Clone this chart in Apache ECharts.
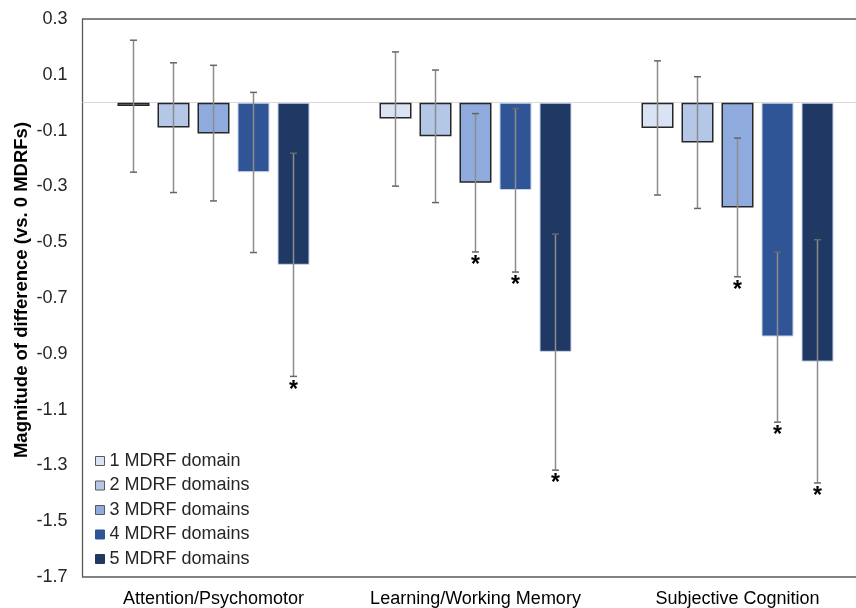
<!DOCTYPE html>
<html>
<head>
<meta charset="utf-8">
<script src="https://cdn.jsdelivr.net/npm/echarts@6/dist/echarts.min.js"></script>
<style>html,body{margin:0;padding:0;background:#fff}#c{width:856px;height:608px}</style>
</head>
<body>
<div id="c"></div>
<script>
var categories = ['Attention/Psychomotor', 'Learning/Working Memory', 'Subjective Cognition'];
var seriesNames = ['1 MDRF domain', '2 MDRF domains', '3 MDRF domains', '4 MDRF domains', '5 MDRF domains'];
var values1 = [-0.012, -0.057, -0.091];
var values2 = [-0.089, -0.120, -0.143];
var values3 = [-0.110, -0.287, -0.376];
var values4 = [-0.249, -0.313, -0.838];
var values5 = [-0.581, -0.893, -0.928];
var lower1 = [-0.249, -0.299, -0.331];
var lower2 = [-0.322, -0.358, -0.379];
var lower3 = [-0.352, -0.535, -0.624];
var lower4 = [-0.537, -0.607, -1.145];
var lower5 = [-0.981, -1.317, -1.363];
var upper1 = [0.224, 0.182, 0.150];
var upper2 = [0.143, 0.117, 0.093];
var upper3 = [0.134, -0.039, -0.127];
var upper4 = [0.037, -0.021, -0.535];
var upper5 = [-0.181, -0.471, -0.491];
var sig1 = [0, 0, 0];
var sig2 = [0, 0, 0];
var sig3 = [0, 1, 1];
var sig4 = [0, 1, 1];
var sig5 = [1, 1, 1];
var yTicksMin = -1.7, yTicksMax = 0.3, yTickStep = 0.2;
var yAxisTitle = 'Magnitude of difference (vs. 0 MDRFs)';

var values = [values1, values2, values3, values4, values5];
var lowers = [lower1, lower2, lower3, lower4, lower5];
var uppers = [upper1, upper2, upper3, upper4, upper5];
var sigs = [sig1, sig2, sig3, sig4, sig5];
var colors = ['#dae3f3', '#b4c7e7', '#8faadc', '#2f5597', '#203864'];
var borders = ['#262626', '#262626', '#262626', '#c9d5ea', '#c9d5ea'];
var borderW = [1.5, 1.5, 1.5, 1, 1];
var legendBorders = ['#595959', '#595959', '#595959', colors[3], colors[4]];
var BAR_W = 32, BAR_GAP = '25%';
var FONT = '"Liberation Sans", Arial, sans-serif';

var chart = echarts.init(document.getElementById('c'), null, {renderer: 'canvas'});
var series = [];
for (var i = 0; i < 5; i++) {
  var s = {
    name: seriesNames[i],
    type: 'bar',
    data: values[i],
    barWidth: BAR_W,
    barGap: BAR_GAP,
    itemStyle: {color: colors[i], borderColor: borders[i], borderWidth: borderW[i]},
    emphasis: {disabled: true},
    z: 2
  };
  if (i === 0) {
    s.markLine = {
      silent: true, symbol: 'none', label: {show: false},
      lineStyle: {color: '#d9d9d9', width: 1, type: 'solid'},
      data: [{yAxis: 0}], z: 1
    };
  }
  series.push(s);
}
for (var k = 0; k < 5; k++) {
  (function (k) {
    var d = [];
    for (var j = 0; j < categories.length; j++) d.push([j, lowers[k][j], uppers[k][j], sigs[k][j]]);
    series.push({
      type: 'custom',
      name: 'err' + k,
      data: d,
      z: 5,
      silent: true,
      encode: {x: 0, y: [1, 2]},
      renderItem: function (params, api) {
        var cat = api.value(0);
        var lo = api.coord([cat, api.value(1)]);
        var hi = api.coord([cat, api.value(2)]);
        var layout = api.barLayout({barWidth: BAR_W, barGap: BAR_GAP, count: 5});
        var x = lo[0] + layout[k].offsetCenter;
        var cap = 3.5;
        var children = [
          {type: 'line', shape: {x1: x, y1: hi[1], x2: x, y2: lo[1]}, style: {stroke: '#8c8c8c', lineWidth: 1.5}},
          {type: 'line', shape: {x1: x - cap, y1: hi[1], x2: x + cap, y2: hi[1]}, style: {stroke: '#666666', lineWidth: 1.5}},
          {type: 'line', shape: {x1: x - cap, y1: lo[1], x2: x + cap, y2: lo[1]}, style: {stroke: '#666666', lineWidth: 1.5}}
        ];
        if (api.value(3)) {
          children.push({type: 'text', x: x, y: lo[1] + 14, style: {text: '*', font: 'bold 23px ' + FONT, fill: '#000', align: 'center', verticalAlign: 'middle'}});
        }
        return {type: 'group', children: children};
      }
    });
  })(k);
}

var legendData = seriesNames.map(function (n, i) {
  return {name: n, itemStyle: {color: colors[i], borderColor: legendBorders[i], borderWidth: 1}};
});

chart.setOption({
  animation: false,
  backgroundColor: '#fff',
  textStyle: {fontFamily: FONT},
  grid: {left: 82.5, top: 19, width: 786, bottom: 31, outerBoundsMode: 'none', containLabel: false, show: true, borderColor: '#595959', borderWidth: 1.3, backgroundColor: 'transparent'},
  legend: {
    data: legendData,
    orient: 'vertical',
    left: 95, top: 452,
    itemWidth: 9, itemHeight: 9, itemGap: 6.5,
    icon: 'rect',
    textStyle: {fontSize: 18, color: '#262626', lineHeight: 18, padding: [0, 0, 0, 0]},
    padding: 0,
    selectedMode: false
  },
  graphic: [{
    type: 'text',
    x: 22, y: 290,
    rotation: Math.PI / 2,
    silent: true,
    style: {text: yAxisTitle, font: 'bold 18.5px ' + FONT, fill: '#000', align: 'center', verticalAlign: 'middle'}
  }],
  xAxis: {
    type: 'category',
    data: categories,
    axisLine: {show: false},
    axisTick: {show: false},
    axisLabel: {fontSize: 18, color: '#000', margin: 13, interval: 0}
  },
  yAxis: {
    type: 'value',
    min: yTicksMin, max: yTicksMax, interval: yTickStep,
    axisLine: {show: false},
    axisTick: {show: false},
    splitLine: {show: false},
    axisLabel: {fontSize: 18, color: '#262626', margin: 15, formatter: function (v) { return (Math.round(v * 10) / 10).toFixed(1); }}
  },
  series: series
});
</script>
</body>
</html>
